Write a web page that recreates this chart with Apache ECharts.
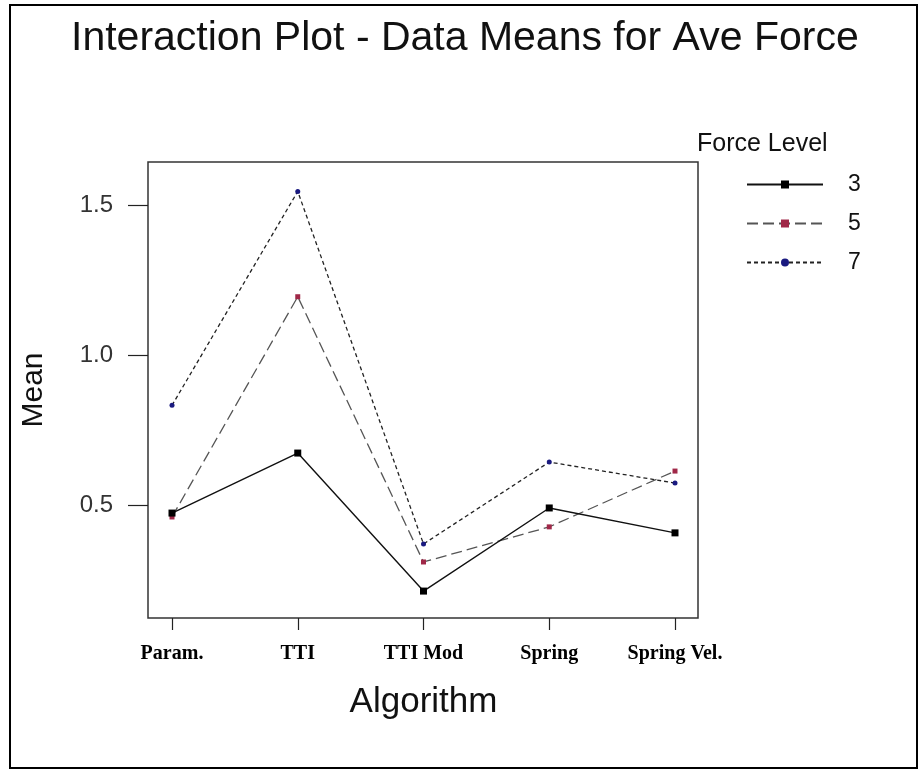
<!DOCTYPE html>
<html>
<head>
<meta charset="utf-8">
<script src="https://cdn.jsdelivr.net/npm/echarts@6/dist/echarts.min.js"></script>
<style>html,body{margin:0;padding:0;background:#fff;}#c{width:920px;height:772px;}</style>
</head>
<body>
<div id="c"></div>
<script>
var categories = ['Param.', 'TTI', 'TTI Mod', 'Spring', 'Spring Vel.'];
var level3 = [0.473, 0.673, 0.213, 0.490, 0.407];
var level5 = [0.460, 1.194, 0.310, 0.427, 0.613];
var level7 = [0.832, 1.545, 0.370, 0.643, 0.573];
var yTicks = [0.5, 1.0, 1.5];
var seriesNames = ['3', '5', '7'];

var yMin = 0.1233, yMax = 1.643;
var chart = echarts.init(document.getElementById('c'), null, {renderer: 'canvas'});
var sans = 'Liberation Sans, Arial, sans-serif';
chart.setOption({
  animation: false,
  backgroundColor: '#fff',
  title: [
    {text: 'Interaction Plot - Data Means for Ave Force', left: 66, top: 13,
     textStyle: {fontFamily: sans, fontSize: 41, fontWeight: 'normal', color: '#111'}},
    {text: 'Force Level', left: 692, top: 127,
     textStyle: {fontFamily: sans, fontSize: 25, fontWeight: 'normal', color: '#111'}}
  ],
  graphic: [{type: 'rect', shape: {x: 10, y: 5, width: 907, height: 763}, silent: true, z: -1,
    style: {fill: 'none', stroke: '#000', lineWidth: 2}}],
  legend: {
    orient: 'vertical', left: 741, top: 168, itemWidth: 76, itemHeight: 10, itemGap: 16,
    data: seriesNames,
    textStyle: {fontFamily: sans, fontSize: 23, color: '#111', padding: [0, 0, 0, 20], lineHeight: 22}
  },
  grid: [
    {left: 148, top: 162, width: 550, height: 456, show: true, borderColor: '#333', borderWidth: 1.5, backgroundColor: 'transparent'},
    {left: 172, top: 162, width: 503, height: 456, show: false}
  ],
  xAxis: [
    {gridIndex: 0, type: 'value', min: 0, max: 1, show: false},
    {gridIndex: 1, type: 'category', data: categories, boundaryGap: false,
     axisLine: {show: false},
     axisTick: {show: true, length: 12, lineStyle: {color: '#222', width: 1.2}},
     axisLabel: {margin: 26, fontFamily: 'Liberation Serif, Times New Roman, serif', fontWeight: 'bold', fontSize: 20, color: '#000'},
     splitLine: {show: false},
     name: 'Algorithm', nameLocation: 'middle', nameGap: 67,
     nameTextStyle: {fontFamily: sans, fontSize: 35, color: '#111'}}
  ],
  yAxis: [
    {gridIndex: 0, type: 'value', min: yMin, max: yMax,
     axisLine: {show: false},
     axisTick: {show: true, length: 20, customValues: yTicks, lineStyle: {color: '#222', width: 1.2}},
     axisLabel: {margin: 35, customValues: yTicks, fontFamily: sans, fontSize: 24, color: '#333',
       formatter: function (v) { return v.toFixed(1); }},
     splitLine: {show: false},
     name: 'Mean', nameLocation: 'middle', nameGap: 99, nameRotate: 90,
     nameTextStyle: {fontFamily: sans, fontSize: 30, color: '#111'}},
    {gridIndex: 1, type: 'value', min: yMin, max: yMax, show: false, splitLine: {show: false}}
  ],
  series: [
    {name: '7', type: 'line', xAxisIndex: 1, yAxisIndex: 1, data: level7,
     symbol: 'circle', symbolSize: 5,
     lineStyle: {color: '#222', width: 1.3, type: [4, 3]},
     itemStyle: {color: '#1a1a80'}, z: 2},
    {name: '5', type: 'line', xAxisIndex: 1, yAxisIndex: 1, data: level5,
     symbol: 'rect', symbolSize: 5,
     lineStyle: {color: '#555', width: 1.3, type: [11, 5]},
     itemStyle: {color: '#a02848'}, z: 3},
    {name: '3', type: 'line', xAxisIndex: 1, yAxisIndex: 1, data: level3,
     symbol: 'rect', symbolSize: 7,
     lineStyle: {color: '#111', width: 1.4, type: 'solid'},
     itemStyle: {color: '#000'}, z: 4}
  ]
});
</script>
</body>
</html>
